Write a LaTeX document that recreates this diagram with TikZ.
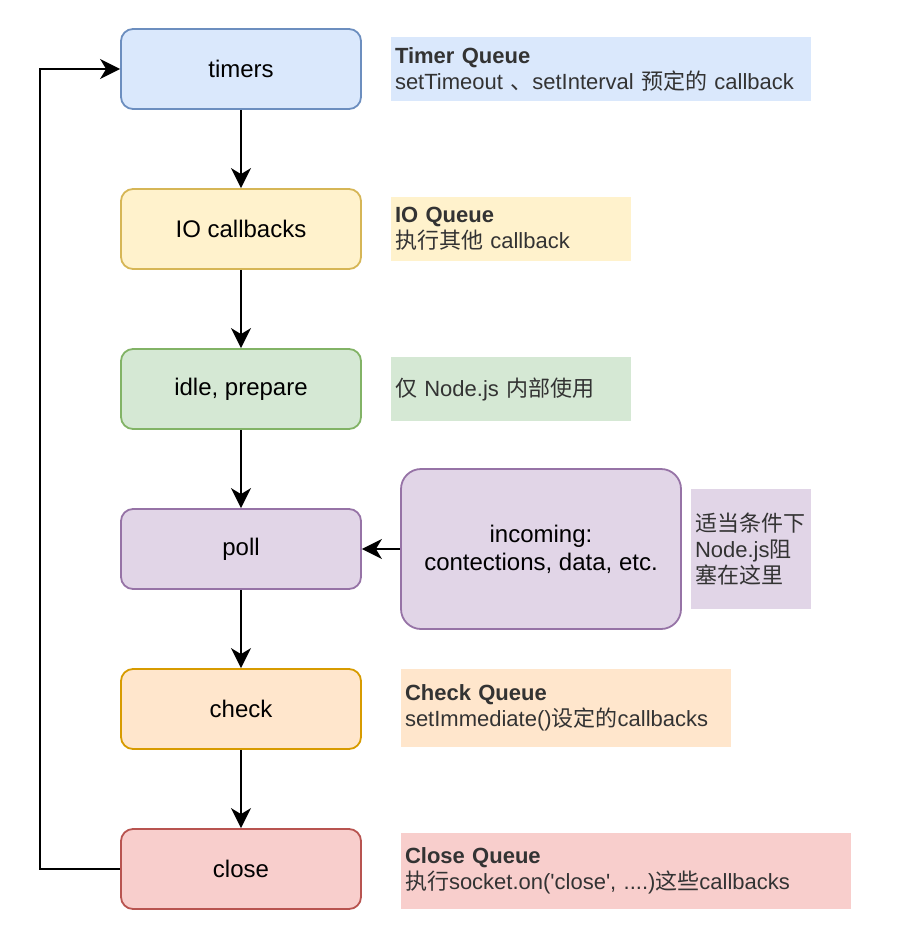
\documentclass[tikz,border=0pt]{standalone}
\usepackage{fontspec}
\setmainfont{Liberation Sans}
\newfontfamily\plainfont{Liberation Sans}
\newfontfamily\cjk{Noto Sans CJK SC}
\newcommand{\zh}[1]{{\cjk #1}}
\usetikzlibrary{arrows.meta}
\definecolor{bfill}{HTML}{DAE8FC}\definecolor{bdraw}{HTML}{6C8EBF}
\definecolor{yfill}{HTML}{FFF2CC}\definecolor{ydraw}{HTML}{D6B656}
\definecolor{gfill}{HTML}{D5E8D4}\definecolor{gdraw}{HTML}{82B366}
\definecolor{pfill}{HTML}{E1D5E7}\definecolor{pdraw}{HTML}{9673A6}
\definecolor{ofill}{HTML}{FFE6CC}\definecolor{odraw}{HTML}{D79B00}
\definecolor{rfill}{HTML}{F8CECC}\definecolor{rdraw}{HTML}{B85450}
\definecolor{lbltext}{HTML}{333333}
\tikzset{
  phase/.style={draw, rounded corners=12pt, line width=1.8pt, minimum width=240pt, minimum height=80pt, inner sep=0pt, font=\fontsize{24}{28}\selectfont},
  lbl/.style={inner sep=4pt, align=left, text=lbltext, font=\fontsize{22}{26}\selectfont},
  arr/.style={line width=2pt, -{Stealth[length=20pt,width=20pt,inset=6pt]}},
}
\begin{document}
\begin{tikzpicture}[x=1pt,y=-1pt]
\useasboundingbox (0,0) rectangle (918,936);
\node[phase, fill=bfill, draw=bdraw] (timers) at (241,69) {timers};
\node[phase, fill=yfill, draw=ydraw] (io) at (241,229) {IO callbacks};
\node[phase, fill=gfill, draw=gdraw] (idle) at (241,389) {idle, prepare};
\node[phase, fill=pfill, draw=pdraw] (poll) at (241,549) {poll};
\node[phase, fill=ofill, draw=odraw] (check) at (241,709) {check};
\node[phase, fill=rfill, draw=rdraw] (close) at (241,869) {close};
\node[phase, fill=pfill, draw=pdraw, rounded corners=20pt, minimum width=280pt, minimum height=160pt, align=center] (incoming) at (541,549) {incoming:\\contections, data, etc.};

\node[lbl, fill=bfill, text width=412pt, minimum height=64pt] (ltimer) at (601,69) {\textbf{Timer Queue}\\setTimeout \zh{、}setInterval \zh{预定的} callback};
\node[lbl, fill=yfill, text width=232pt, minimum height=64pt] (lio) at (511,229) {\textbf{IO Queue}\\\zh{执行其他} callback};
\node[lbl, fill=gfill, text width=232pt, minimum height=64pt] (lidle) at (511,389) {\zh{仅} Node.js \zh{内部使用}};
\node[lbl, fill=pfill, text width=112pt, minimum height=120pt] (lpoll) at (751,549) {\zh{适当条件下}\\Node.js\zh{阻}\\\zh{塞在这里}};
\node[lbl, fill=ofill, text width=322pt, minimum height=78pt] (lcheck) at (566,708) {\textbf{Check Queue}\\setImmediate()\zh{设定的}callbacks};
\node[lbl, fill=rfill, text width=442pt, minimum height=76pt] (lclose) at (626,871) {\textbf{Close Queue}\\\zh{执行}socket.on({\plainfont 'close'}, ....)\zh{这些}callbacks};

\draw[arr] (timers) -- (io);
\draw[arr] (io) -- (idle);
\draw[arr] (idle) -- (poll);
\draw[arr] (poll) -- (check);
\draw[arr] (check) -- (close);
\draw[arr] (incoming) -- (poll);
\draw[arr] (close.west) -- ++(-80,0) |- (timers.west);
\end{tikzpicture}
\end{document}
